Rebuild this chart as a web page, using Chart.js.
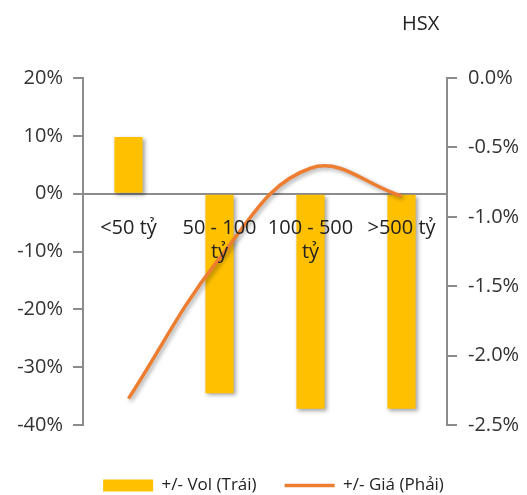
<!DOCTYPE html>
<html>
<head>
<meta charset="utf-8">
<script src="https://cdn.jsdelivr.net/npm/chart.js@4"></script>
<style>
  html, body { margin: 0; padding: 0; background: #fff; }
  #wrap { position: relative; width: 527px; height: 495px; }
  #title { position: absolute; left: 402px; top: 9px; font: 20px "Open Sans", sans-serif; color: #222; }
</style>
</head>
<body>
<div id="wrap">
  <canvas id="chart" width="527" height="495"></canvas>
  <div id="title">HSX</div>
</div>
<script>
// data
const categories = ["<50 tỷ", ["50 - 100", "tỷ"], ["100 - 500", "tỷ"], ">500 tỷ"];
const volChange = [9.8, -34.5, -37.2, -37.2];      // left axis, %
const priceChange = [-2.31, -1.30, -0.65, -0.85];  // right axis, %
const leftTicks = { min: -40, max: 20, step: 10 };
const rightTicks = { min: -2.5, max: 0, step: 0.5 };

Chart.defaults.font.family = '"Open Sans", sans-serif';

// soft drop shadow like the office chart
const shadowPlugin = {
  id: 'shadow',
  beforeDatasetDraw(chart) {
    const ctx = chart.ctx;
    ctx.save();
    ctx.shadowColor = 'rgba(0,0,0,0.35)';
    ctx.shadowBlur = 4;
    ctx.shadowOffsetX = 2;
    ctx.shadowOffsetY = 2;
  },
  afterDatasetDraw(chart) {
    chart.ctx.restore();
  },
  // the legend in the reference sits a bit right of centre
  afterLayout(chart) {
    if (chart.legend) chart.legend.left += 20;
  }
};

new Chart(document.getElementById('chart').getContext('2d'), {
  type: 'bar',
  data: {
    labels: categories,
    datasets: [{
      label: '+/- Vol (Trái)',
      data: volChange,
      backgroundColor: '#FFC000',
      borderWidth: 0,
      barPercentage: 0.31,
      categoryPercentage: 1,
      xAxisID: 'x',
      yAxisID: 'y',
      pointStyle: 'rect',
      order: 1
    }, {
      type: 'line',
      label: '+/- Giá (Phải)',
      data: priceChange,
      borderColor: '#ED7D31',
      backgroundColor: '#ED7D31',
      borderWidth: 3.5,
      pointRadius: 0,
      tension: 0.4,
      xAxisID: 'x',
      yAxisID: 'y1',
      pointStyle: 'line',
      order: 0
    }]
  },
  options: {
    responsive: false,
    animation: false,
    layout: { padding: { top: 78, left: 0, right: 0, bottom: 0 } },
    scales: {
      x: {
        position: { y: 0 },
        offset: true,
        grid: { display: false, drawTicks: false },
        border: { color: '#8c8c8c', width: 2 },
        ticks: { z: 1, padding: 23, color: '#222', font: { size: 20 }, maxRotation: 0, autoSkip: false }
      },
      // empty strip that keeps the legend away from the plot
      xPad: {
        type: 'category',
        position: 'bottom',
        grid: { display: false },
        border: { display: false },
        ticks: { display: false },
        afterFit: s => { s.height = 24; }
      },
      y: {
        position: 'left',
        min: leftTicks.min,
        max: leftTicks.max,
        afterFit: s => { s.width = 83; },
        grid: { drawOnChartArea: false, tickLength: 10, color: '#8c8c8c', lineWidth: 2 },
        border: { color: '#8c8c8c', width: 2 },
        ticks: { stepSize: leftTicks.step, padding: 10, color: '#333', font: { size: 20 }, callback: v => v + '%' }
      },
      y1: {
        position: 'right',
        min: rightTicks.min,
        max: rightTicks.max,
        afterFit: s => { s.width = 80; },
        grid: { drawOnChartArea: false, tickLength: 10, color: '#8c8c8c', lineWidth: 2 },
        border: { color: '#8c8c8c', width: 2 },
        ticks: { stepSize: rightTicks.step, padding: 11, color: '#333', font: { size: 20 }, callback: v => v.toFixed(1) + '%' }
      }
    },
    plugins: {
      legend: {
        position: 'bottom',
        maxHeight: 46,
        labels: {
          usePointStyle: true,
          pointStyleWidth: 50,
          boxHeight: 12,
          padding: 28,
          color: '#222',
          font: { size: 17 },
          sort: (a, b) => a.datasetIndex - b.datasetIndex
        }
      },
      tooltip: { enabled: false }
    }
  },
  plugins: [shadowPlugin]
});
</script>
</body>
</html>
